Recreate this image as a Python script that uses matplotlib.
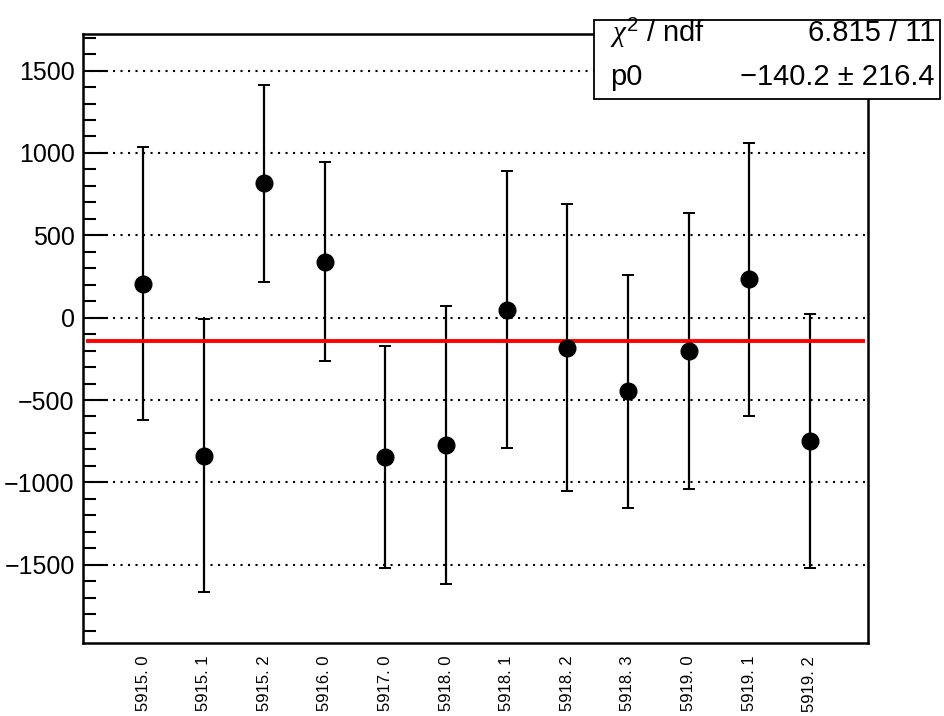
import numpy as np
import matplotlib
matplotlib.use("Agg")
import matplotlib.pyplot as plt
from matplotlib.patches import Rectangle
from matplotlib.ticker import MultipleLocator

plt.rcParams['font.family'] = ['Liberation Sans', 'DejaVu Sans']
plt.rcParams['mathtext.fontset'] = 'custom'
plt.rcParams['mathtext.rm'] = 'Liberation Sans'
plt.rcParams['mathtext.it'] = 'Liberation Serif:italic'

# --- Daten ---
run_labels = ["5915. 0", "5915. 1", "5915. 2", "5916. 0", "5917. 0", "5918. 0",
              "5918. 1", "5918. 2", "5918. 3", "5919. 0", "5919. 1", "5919. 2"]
values = [207, -837, 816, 340, -846, -775, 49, -182, -447, -204, 233, -748]
errors = [830, 827, 598, 604, 672, 843, 840, 871, 708, 838, 829, 770]
fit_p0 = -140.2
fit_p0_err = 216.4
chi2 = 6.815
ndf = 11

x = np.arange(len(values))

fig = plt.figure(figsize=(9.45, 7.16), dpi=100)
ax = fig.add_axes([83 / 945, 1 - 643 / 716, (868 - 83) / 945, (643 - 34) / 716])

# horizontale Gitterlinien (gepunktet)
ax.yaxis.grid(True, color='black', linestyle=(0, (1, 2.6)), linewidth=1.5, zorder=0)
ax.xaxis.grid(False)

ax.errorbar(x, values, yerr=errors, fmt='none', ecolor='black', elinewidth=1.6,
            capsize=4, capthick=1.4, zorder=2)
ax.plot([-0.9, 11.88], [fit_p0, fit_p0], color='red', linewidth=2.8, zorder=3)
ax.plot(x, values, 'o', color='black', markersize=12, zorder=4)

ax.set_xlim(-0.99, 11.96)
ax.set_ylim(-1975, 1722)

ax.yaxis.set_major_locator(MultipleLocator(500))
ax.yaxis.set_minor_locator(MultipleLocator(100))
ax.tick_params(axis='y', which='major', direction='in', length=18, width=1.5,
               labelsize=18, pad=6)
ax.tick_params(axis='y', which='minor', direction='in', length=9, width=1.5)
ax.tick_params(axis='y', which='both', right=False)

ax.set_xticks(x)
ax.set_xticklabels([])
ax.tick_params(axis='x', which='both', length=0, bottom=False, top=False)
for xi, lab in zip(x, run_labels):
    ax.text(xi, -0.021, lab, rotation=90, ha='center', va='top', fontsize=12,
            transform=ax.get_xaxis_transform())

for sp in ax.spines.values():
    sp.set_linewidth(1.8)

# Statistik-Box (wie ROOT TPaveStats)
box = Rectangle((594 / 945, 1 - 99 / 716), (940 - 594) / 945, (99 - 20) / 716,
                transform=fig.transFigure, facecolor='white', edgecolor='black',
                linewidth=1.3, zorder=10)
fig.add_artist(box)
fig.text(610 / 945, 1 - 33 / 716, r"$\chi^{2}$ / ndf", ha='left', va='center',
         fontsize=21, zorder=11)
fig.text(935 / 945, 1 - 33 / 716, f"{chi2:.3f} / {ndf}", ha='right', va='center',
         fontsize=21, zorder=11)
fig.text(610 / 945, 1 - 77 / 716, "p0", ha='left', va='center',
         fontsize=21, zorder=11)
fig.text(935 / 945, 1 - 77 / 716, f"\u2212{abs(fit_p0):.1f} \u00b1 {fit_p0_err:.1f}",
         ha='right', va='center', fontsize=21, zorder=11)

fig.savefig("out.png", dpi=100)
